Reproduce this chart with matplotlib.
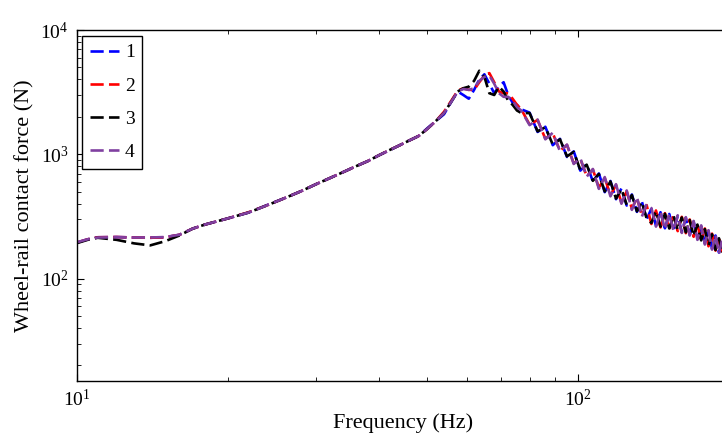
import matplotlib
matplotlib.use("Agg")
import matplotlib.pyplot as plt

plt.rcParams['font.family'] = ['Liberation Serif', 'DejaVu Serif']
plt.rcParams['mathtext.fontset'] = 'custom'
plt.rcParams['mathtext.rm'] = 'Liberation Serif'
plt.rcParams['mathtext.it'] = 'Liberation Serif:italic'

freq = [10, 10.5, 11, 12, 13, 14, 15, 16, 17, 18, 20, 22, 24, 26, 28, 30, 32, 34, 36, 38, 40, 42, 44, 46, 48,
        50, 52, 54, 56,
        57.5, 59, 60.5, 62, 63.5, 65, 66.5, 68, 69.5, 71, 72.5, 74, 75.5, 77,
        80, 83, 86, 89, 92, 95, 98, 101, 104, 107, 110, 113, 116, 119, 122, 125, 128, 131, 134, 137,
        140, 143, 146, 149, 152, 155, 158, 161, 164, 167, 170, 173, 176, 179, 182, 185, 188, 191, 194, 197, 200]

force_1 = [195, 207, 215, 216, 214, 213, 215, 225, 252, 272, 305, 340, 392, 445, 505, 575, 645, 720, 800, 880, 980, 1075, 1180, 1290, 1400,
           1620, 1850, 2100, 2700,
           3200, 3000, 2800, 3300, 4000, 4400, 3700, 3100, 3500, 3800, 3000, 2600, 2500, 2300,
           2165, 1513, 1665, 1184, 1332, 952, 1055, 739, 833, 605, 701, 496, 610, 435, 531, 387, 475, 344, 418, 300,
           365, 267, 342, 254, 331, 245, 319, 237, 308, 225, 287, 208, 264, 191, 242, 174, 222, 162, 207, 151, 194]

force_2 = [195, 207, 215, 216, 214, 213, 215, 225, 252, 272, 305, 342, 390, 445, 505, 575, 645, 720, 800, 880, 980, 1080, 1180, 1290, 1400,
           1600, 1850, 2200, 2750,
           3250, 3400, 3300, 3300, 3800, 4300, 4500, 3800, 3200, 3100, 3100, 2800, 2500, 2300,
           1736, 1887, 1335, 1476, 1068, 1188, 846, 921, 668, 755, 539, 644, 470, 565, 409, 503, 365, 446, 322, 390,
           275, 353, 258, 336, 249, 325, 241, 314, 232, 299, 217, 276, 200, 253, 182, 230, 168, 214, 157, 201, 146]

force_3 = [193, 205, 213, 205, 192, 185, 200, 222, 252, 272, 305, 340, 390, 445, 505, 575, 645, 720, 800, 880, 980, 1080, 1180, 1290, 1400,
           1600, 1850, 2150, 2700,
           3200, 3400, 3500, 3900, 4700, 4200, 3100, 3000, 3500, 3200, 2700, 2500, 2250, 2150,
           2145, 1530, 1650, 1197, 1320, 963, 1045, 747, 825, 612, 694, 502, 605, 440, 526, 392, 470, 348, 414, 304,
           280, 349, 262, 332, 253, 321, 245, 310, 236, 295, 220, 272, 203, 250, 185, 227, 170, 211, 159, 198, 149]

force_4 = [196, 207, 214, 215, 214, 214, 216, 225, 252, 272, 305, 340, 390, 445, 505, 575, 645, 720, 800, 880, 980, 1080, 1180, 1290, 1400,
           1600, 1850, 2150, 2700,
           3200, 3350, 3300, 3400, 3900, 4200, 4300, 3700, 3100, 2900, 2900, 2700, 2400, 2250,
           1716, 1904, 1320, 1490, 1056, 1198, 836, 930, 660, 762, 527, 656, 459, 575, 400, 512, 357, 454, 315, 397,
           369, 262, 346, 250, 335, 241, 323, 233, 312, 222, 291, 205, 268, 188, 245, 171, 225, 159, 210, 149, 196]

labels = ['1', '2', '3', '4']
colors = ['#0000FF', '#FF0000', '#000000', '#8040A0']
series = [force_1, force_2, force_3, force_4]

W, H = 722, 433
fig = plt.figure(figsize=(W / 100, H / 100), dpi=100)
ax = fig.add_axes([77 / W, (H - 381) / H, (729 - 77) / W, (381 - 30) / H])

for vals, lab, col in zip(series, labels, colors):
    ax.plot(freq, vals, color=col, lw=1.9, linestyle=(0, (5, 2)), label=lab)

ax.set_xscale('log')
ax.set_yscale('log')
ax.set_xlim(10, 200)
ax.set_ylim(15, 1e4)

ax.tick_params(which='both', direction='in', top=True, right=True, labelsize=14)
ax.tick_params(which='major', length=5, width=0.8, pad=6)
ax.tick_params(which='minor', length=3, width=0.6)
for s in ax.spines.values():
    s.set_linewidth(1.0)

ax.set_xlabel('Frequency (Hz)', fontsize=16, labelpad=2)
ax.set_ylabel('Wheel-rail contact force (N)', fontsize=16, labelpad=4)

leg = ax.legend(loc='upper left', bbox_to_anchor=((82 - 77) / 652, (381 - 36) / 351),
                borderaxespad=0, fontsize=14, handlelength=1.5, handletextpad=0.3,
                labelspacing=0.8, borderpad=0.4, fancybox=False, framealpha=1,
                edgecolor='black')
leg.get_frame().set_linewidth(1.0)

fig.savefig('out.png', dpi=100)
